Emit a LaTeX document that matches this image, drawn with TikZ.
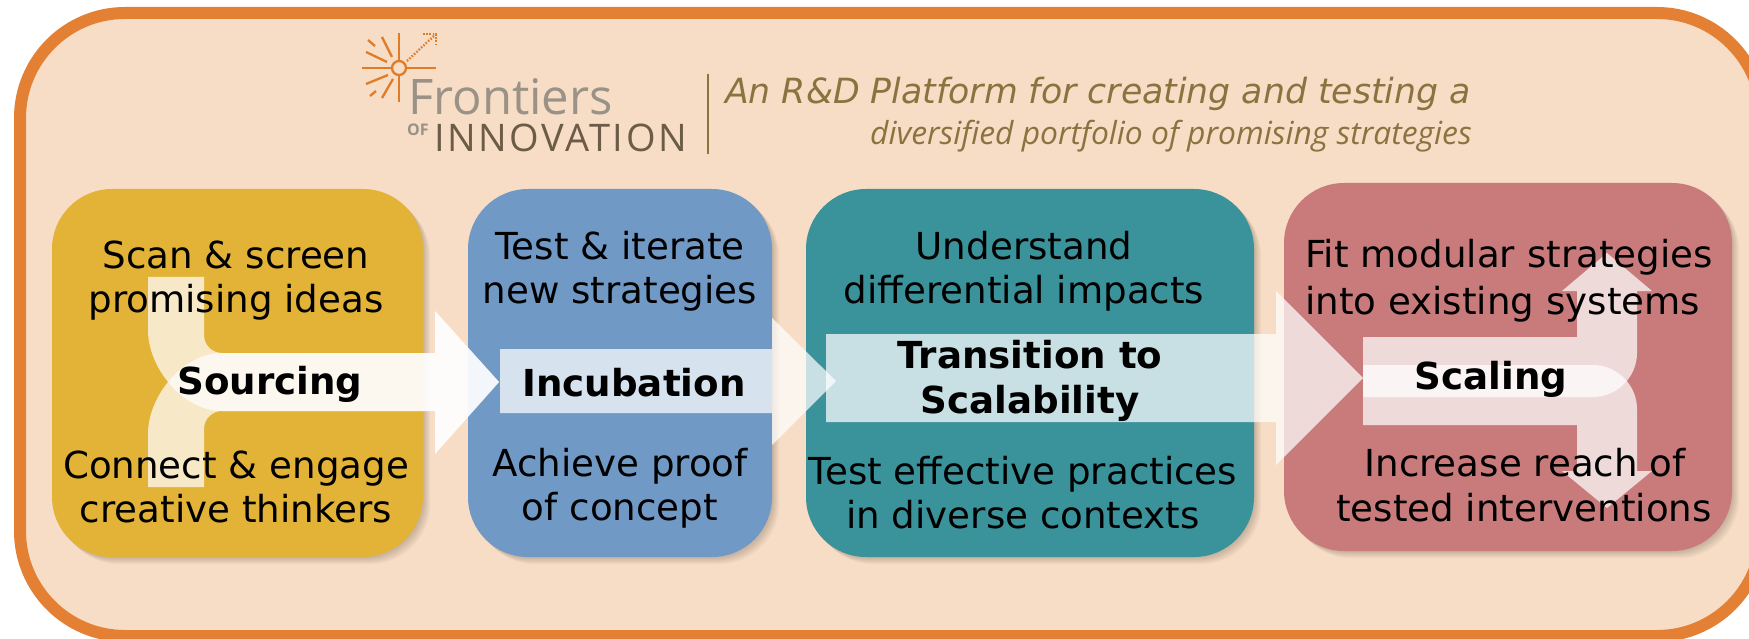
\documentclass[tikz,border=0pt]{standalone}
\usepackage{fontspec}
\setmainfont{DejaVu Sans}
\newfontfamily\logofont{Open Sans}
\newfontfamily\logowide[LetterSpace=6.8]{Open Sans}
\newfontfamily\subfont{Open Sans}
\definecolor{peach}{HTML}{F7DDC5}
\definecolor{frameor}{HTML}{E38033}
\definecolor{boxyellow}{HTML}{E3B338}
\definecolor{boxblue}{HTML}{7099C6}
\definecolor{boxteal}{HTML}{3A929B}
\definecolor{boxred}{HTML}{C97B7C}
\definecolor{headbrown}{HTML}{8B7340}
\definecolor{logogray}{HTML}{9A9286}
\definecolor{logobrown}{HTML}{6B5B47}
\definecolor{sunor}{HTML}{E07B28}
\tikzset{
  x=1pt,y=-1pt,
  stagebox/.style={rounded corners=60pt,fill=#1,draw=none},
  flowarrow/.style={fill=white,fill opacity=0.72,draw=none},
  bodytext/.style={inner sep=0pt,align=center,font=\fontsize{37.2}{44}\selectfont},
  linetext/.style={inner sep=0pt,anchor=base,font=\fontsize{37.2}{44}\selectfont},
  labeltext/.style={inner sep=0pt,anchor=base,font=\fontsize{37.2}{44}\selectfont\bfseries},
  ray/.style={draw=sunor,line width=2.3pt},
  dotray/.style={draw=sunor,line width=2.3pt,dash pattern=on 1.6pt off 1.6pt},
}
\newcommand{\softshadow}[4]{%
  \foreach \k in {1,...,8}{
    \fill[black,opacity=0.022,rounded corners=60pt]
      ({#1+\k*0.9},{#2+\k*0.9}) rectangle ({#3+\k*0.9},{#4+\k*0.9});
  }}
\begin{document}
\begin{tikzpicture}
\useasboundingbox (0,0) rectangle (1749,639);
\fill[white] (0,0) rectangle (1749,639);
% frame
\draw[frameor,line width=12pt,fill=peach,rounded corners=105pt] (20,13) rectangle (1762,636);
% boxes
\softshadow{52}{189}{423}{557}
\softshadow{468}{189}{772}{557}
\softshadow{806}{189}{1254}{557}
\softshadow{1284}{183}{1732}{551}
\fill[stagebox=boxyellow] (52,189) rectangle (423,557);
\fill[stagebox=boxblue] (468,189) rectangle (772,557);
\fill[stagebox=boxteal] (806,189) rectangle (1254,557);
\fill[stagebox=boxred] (1284,183) rectangle (1732,551);
% sourcing arrows
\fill[flowarrow] (148,277) -- (148,330) .. controls (148,368) and (183,411) .. (222,411)
  -- (435,411) -- (435,454) -- (499,382) -- (435,311) -- (435,353) -- (222,353)
  .. controls (212,353) and (204,345) .. (204,335) -- (204,277) -- cycle;
\fill[flowarrow] (148,487) -- (148,434) .. controls (148,396) and (183,353) .. (222,353)
  -- (435,353) -- (435,311) -- (499,382) -- (435,454) -- (435,411) -- (222,411)
  .. controls (212,411) and (204,419) .. (204,429) -- (204,487) -- cycle;
% incubation arrow
\fill[flowarrow] (500,349) -- (772,349) -- (772,318) -- (836,381) -- (772,445) -- (772,413) -- (500,413) -- cycle;
% transition arrow
\fill[flowarrow] (826,334) -- (1276,334) -- (1276,291) -- (1363,378) -- (1276,465) -- (1276,422) -- (826,422) -- cycle;
% scaling arrows
\fill[flowarrow] (1363,337) -- (1577,337) -- (1577,291) -- (1562,291) -- (1607,253) -- (1652,291) -- (1637,291)
  -- (1637,353) .. controls (1637,377) and (1617,397) .. (1593,397) -- (1363,397) -- cycle;
\fill[flowarrow] (1363,425) -- (1577,425) -- (1577,471) -- (1562,471) -- (1607,508) -- (1652,471) -- (1637,471)
  -- (1637,409) .. controls (1637,385) and (1617,365) .. (1593,365) -- (1363,365) -- cycle;
% logo
\draw[ray] (399,33) -- (399,61);
\draw[ray] (399,75) -- (399,102);
\draw[ray] (362,68) -- (392,68);
\draw[ray] (406,68) -- (436,68);
\draw[ray] (382,37) -- (392,57);
\draw[ray] (368,40) -- (375,46);
\draw[ray] (366,52) -- (387,62);
\draw[ray] (366,84) -- (388,75);
\draw[ray] (370,96) -- (376,91);
\draw[ray] (382,98) -- (393,79);
\draw[ray] (399,68) circle (7);
\draw[dotray] (407,61) -- (436,34);
\draw[dotray] (423,34) -- (436,34);
\draw[dotray] (436,34) -- (436,46);
\node[inner sep=0pt,anchor=base west,text=logogray,font=\logofont\fontsize{49}{49}\selectfont] (frontiers) at (408,115) {Frontiers};
\node[inner sep=0pt,anchor=base west,text=logogray,font=\logofont\bfseries\fontsize{16}{16}\selectfont] (of) at (407,136) {OF};
\node[inner sep=0pt,anchor=base west,text=logobrown,font=\logowide\fontsize{38}{38}\selectfont] (innovation) at (434,152) {INNOVATION};
\draw[headbrown,line width=1.2pt] (708,74) -- (708,154);
\node[inner sep=0pt,anchor=base east,text=headbrown,font=\itshape\fontsize{34.7}{34.7}\selectfont] (head1) at (1471,103.5) {An R\&D Platform for creating and testing a};
\node[inner sep=0pt,anchor=base east,text=headbrown,font=\subfont\itshape\fontsize{31.8}{31.8}\selectfont] (head2) at (1472,145) {diversified portfolio of promising strategies};
% body text
\node[bodytext] (s1) at (236,{268.5+13.2}) {\strut Scan \& screen\\\strut promising ideas};
\node[bodytext] (s2) at (236,{478.5+13.2}) {\strut Connect \& engage\\\strut creative thinkers};
\node[bodytext] (i1) at (620,{259.5+13.2}) {\strut Test \& iterate\\\strut new strategies};
\node[bodytext] (i2) at (620,{476.5+13.2}) {\strut Achieve proof\\\strut of concept};
\node[bodytext] (t1) at (1024,{259.5+13.2}) {\strut Understand\\\strut differential impacts};
\node[bodytext] (t2) at (1023,{484.5+13.2}) {\strut Test effective practices\\\strut in diverse contexts};
\node[linetext,anchor=base west] (r1) at (1305,268) {Fit modular strategies};
\node[linetext,anchor=base west] (r2) at (1305,314) {into existing systems};
\node[linetext] (r3) at (1525,476) {Increase reach of};
\node[linetext] (r4) at (1524,521) {tested interventions};
% labels
\node[labeltext] (sourcing) at (270,394) {Sourcing};
\node[labeltext] (incubation) at (634,396) {Incubation};
\node[labeltext] (transition1) at (1030,368) {Transition to};
\node[labeltext] (transition2) at (1030,413) {Scalability};
\node[labeltext] (scaling) at (1491,389) {Scaling};
\end{tikzpicture}
\end{document}
